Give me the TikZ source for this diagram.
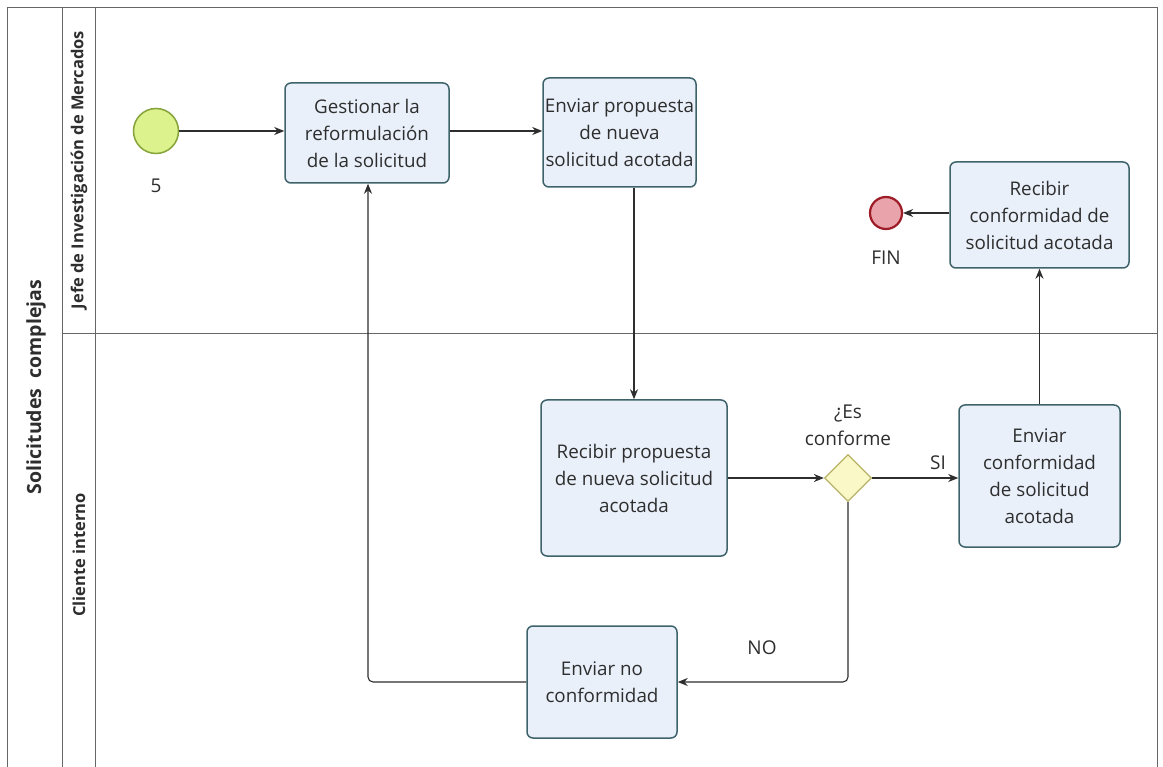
\documentclass[tikz,border=0pt]{standalone}
\usepackage{fontspec}
\setmainfont{Open Sans}
\usetikzlibrary{arrows.meta,shapes.geometric}
\definecolor{taskfill}{HTML}{E9F0FA}
\definecolor{taskline}{HTML}{3F636B}
\definecolor{startfill}{HTML}{DCF28C}
\definecolor{startline}{HTML}{86A33C}
\definecolor{endfill}{HTML}{E9A3AA}
\definecolor{endline}{HTML}{9E1B28}
\definecolor{gatefill}{HTML}{FAF8C6}
\definecolor{gateline}{HTML}{B9B269}
\definecolor{ink}{HTML}{2E2E2E}
\definecolor{frame}{HTML}{666666}
\tikzset{
  task/.style={draw=taskline, fill=taskfill, line width=1.5pt, rounded corners=6pt,
    align=center, text=ink, font=\fontsize{18.8}{27}\selectfont, inner sep=0pt},
  startev/.style={circle, draw=startline, fill=startfill, line width=1.5pt, minimum size=45pt, inner sep=0pt},
  endev/.style={circle, draw=endline, fill=endfill, line width=2.2pt, minimum size=32pt, inner sep=0pt},
  gate/.style={diamond, draw=gateline, fill=gatefill, line width=1.3pt, minimum size=47pt, inner sep=0pt},
  lbl/.style={text=ink, font=\fontsize{19}{27}\selectfont, align=center, inner sep=0pt},
  flow/.style={draw=ink, line width=1.1pt, -{Stealth[length=10pt,width=8pt]}},
  lanelbl/.style={text=ink, font=\fontsize{16.5}{19}\selectfont\bfseries, rotate=90, inner sep=0pt},
}
\begin{document}
\begin{tikzpicture}[x=1pt,y=-1pt]
\useasboundingbox (0,0) rectangle (1163,767);
\fill[white] (0,0) rectangle (1163,767);

% pool and lanes
\draw[frame, line width=1pt] (7,767) -- (7,8) -- (1157,8) -- (1157,767);
\draw[frame, line width=1pt] (62,8) -- (62,767);
\draw[frame, line width=1pt] (95,8) -- (95,767);
\draw[frame, line width=1pt] (62,334) -- (1157,334);

\node[lanelbl, font=\fontsize{19.5}{22}\selectfont\bfseries] (pool) at (36,387) {Solicitudes\ \ complejas};
\node[lanelbl] (lane1) at (79,170) {Jefe de Investigación de Mercados};
\node[lanelbl] (lane2) at (79,555) {Cliente interno};

% events
\node[startev] (start) at (156,131) {};
\node[lbl] (startlbl) at (156,186) {5};
\node[endev] (fin) at (886,213) {};
\node[lbl] (finlbl) at (886,258) {FIN};

% tasks
\node[task, minimum width=164pt, minimum height=100pt] (gest) at (367,133)
  {Gestionar la\\reformulación\\de la solicitud};
\node[task, minimum width=153pt, minimum height=109pt] (envprop) at (619.5,132.5)
  {Enviar propuesta\\de nueva\\solicitud acotada};
\node[task, minimum width=179pt, minimum height=106pt] (recconf) at (1039.5,215)
  {Recibir\\conformidad de\\solicitud acotada};
\node[task, minimum width=186pt, minimum height=156pt] (recprop) at (634,478)
  {Recibir propuesta\\de nueva solicitud\\acotada};
\node[task, minimum width=161pt, minimum height=142pt] (envconf) at (1039.5,476)
  {Enviar\\conformidad\\de solicitud\\acotada};
\node[task, minimum width=150pt, minimum height=112pt] (envno) at (602,682)
  {Enviar no\\conformidad};

% gateway
\node[gate] (gw) at (848,478) {};
\node[lbl] (gwlbl) at (848,425) {¿Es\\conforme};
\node[lbl] (si) at (938,463) {SI};
\node[lbl] (no) at (762,648) {NO};

% sequence flows
\draw[flow] (start.east) -- (gest.west |- start.east);
\draw[flow] (gest.east |- 0,131) -- (envprop.west |- 0,131);
\draw[flow] (recprop.north |- envprop.south) -- (recprop.north);
\draw[flow] (recprop.east |- gw) -- (gw.west);
\draw[flow] (gw.east) -- (envconf.west |- gw);
\draw[flow] (recconf.south |- envconf.north) -- (recconf.south);
\draw[flow] (recconf.west |- fin.east) -- (fin.east);
\draw[flow, rounded corners=5pt] (gw.south) -- (gw.south |- envno.east) -- (envno.east);
\draw[flow, rounded corners=5pt] (envno.west) -- (368,682) -- (368,183.1) -- (gest.south -| 368,0);
\end{tikzpicture}
\end{document}
